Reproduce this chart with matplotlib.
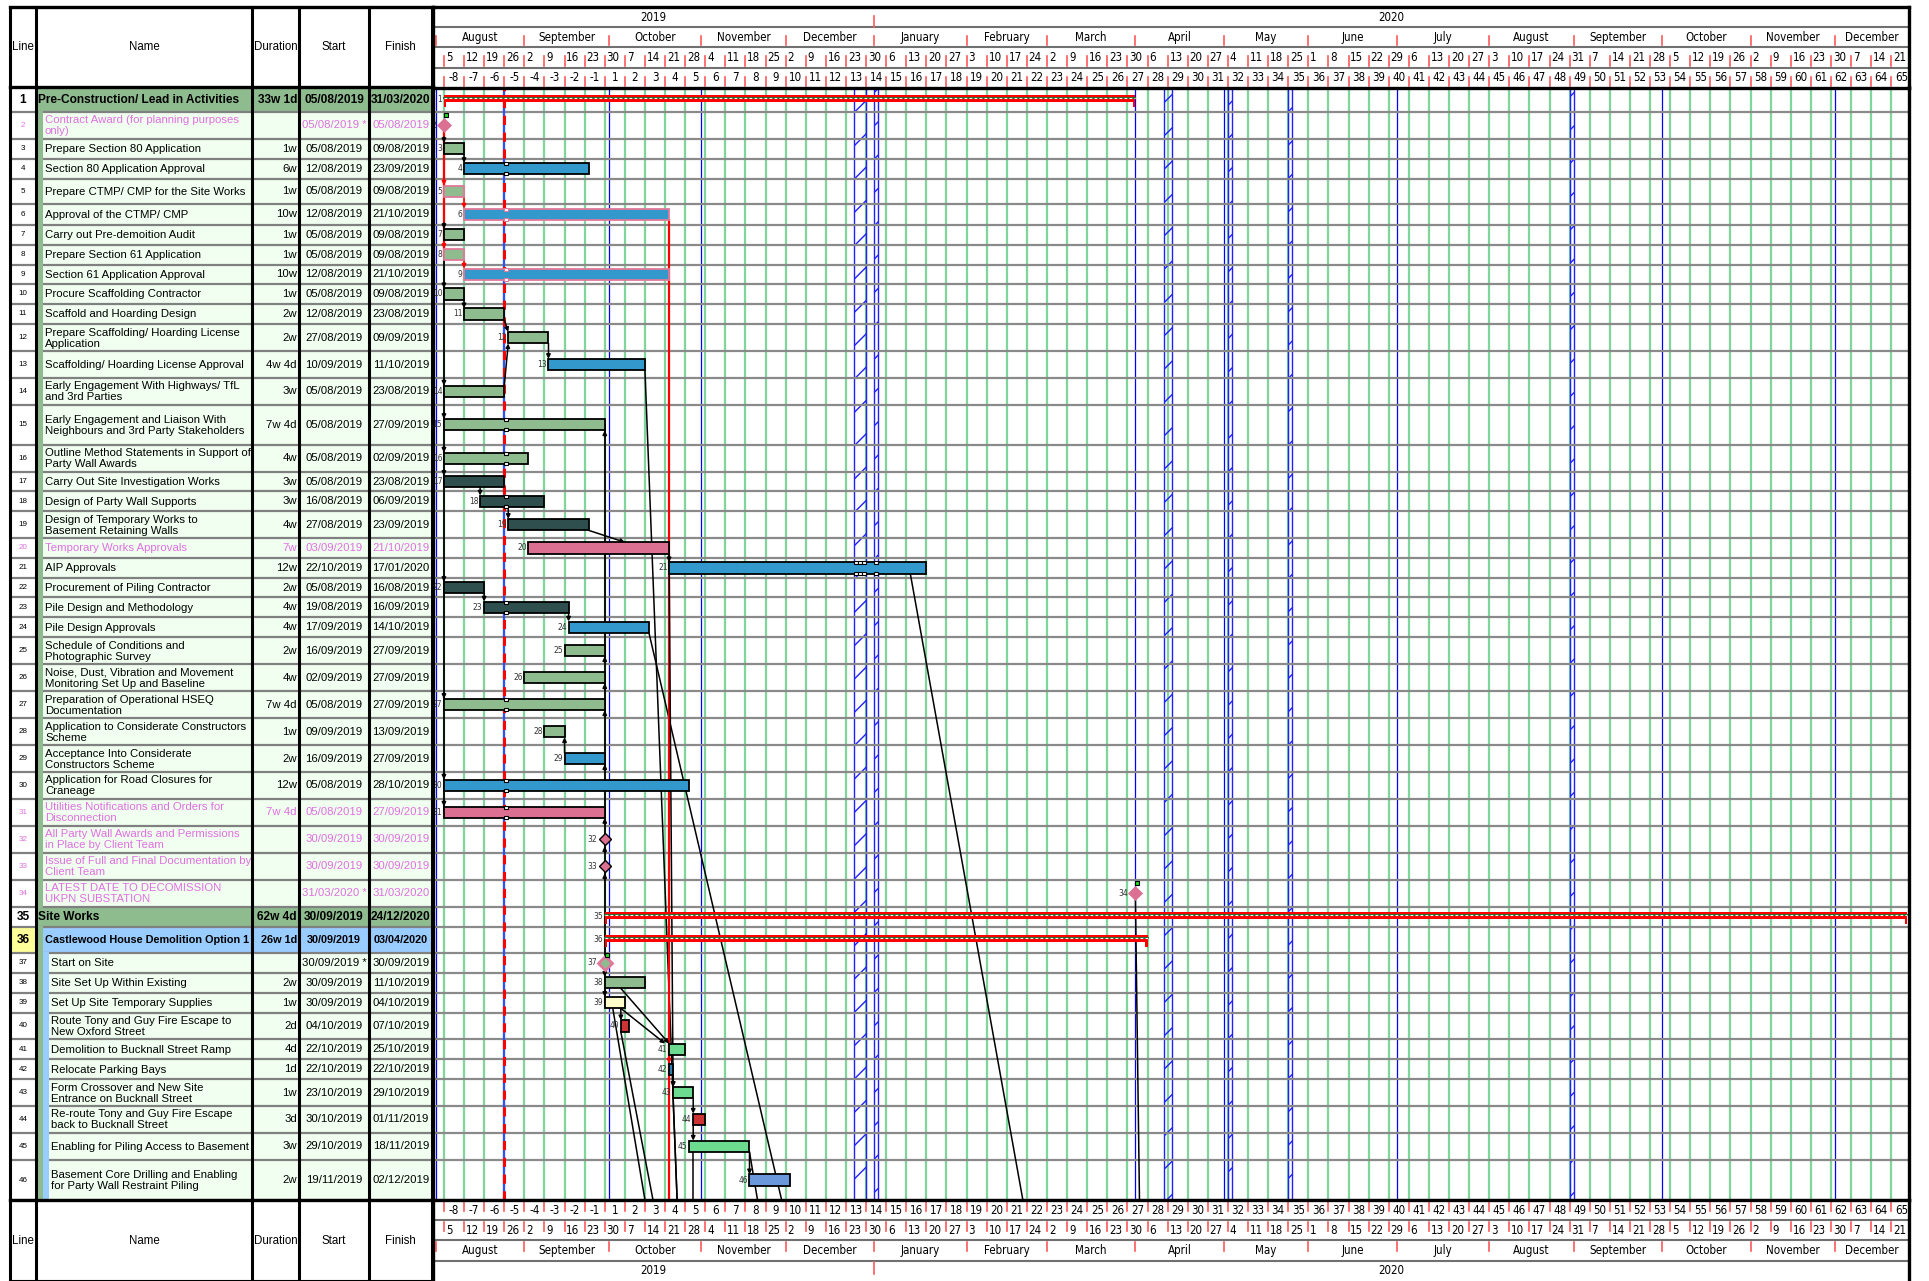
import numpy as np
import matplotlib
matplotlib.use('Agg')
import matplotlib.pyplot as plt
from matplotlib.patches import Rectangle

FIG_W, FIG_H = 1929, 1281

# ---------------- programme data ----------------
names = [
    'Pre-Construction/ Lead in Activities',
    'Contract Award (for planning purposes\nonly)',
    'Prepare Section 80 Application',
    'Section 80 Application Approval',
    'Prepare CTMP/ CMP for the Site Works',
    'Approval of the CTMP/ CMP',
    'Carry out Pre-demoition Audit',
    'Prepare Section 61 Application',
    'Section 61 Application Approval',
    'Procure Scaffolding Contractor',
    'Scaffold and Hoarding Design',
    'Prepare Scaffolding/ Hoarding License\nApplication',
    'Scaffolding/ Hoarding License Approval',
    'Early Engagement With Highways/ TfL\nand 3rd Parties',
    'Early Engagement and Liaison With\nNeighbours and 3rd Party Stakeholders',
    'Outline Method Statements in Support of\nParty Wall Awards',
    'Carry Out Site Investigation Works',
    'Design of Party Wall Supports',
    'Design of Temporary Works to\nBasement Retaining Walls',
    'Temporary Works Approvals',
    'AIP Approvals',
    'Procurement of Piling Contractor',
    'Pile Design and Methodology',
    'Pile Design Approvals',
    'Schedule of Conditions and\nPhotographic Survey',
    'Noise, Dust, Vibration and Movement\nMonitoring Set Up and Baseline',
    'Preparation of Operational HSEQ\nDocumentation',
    'Application to Considerate Constructors\nScheme',
    'Acceptance Into Considerate\nConstructors Scheme',
    'Application for Road Closures for\nCraneage',
    'Utilities Notifications and Orders for\nDisconnection',
    'All Party Wall Awards and Permissions\nin Place by Client Team',
    'Issue of Full and Final Documentation by\nClient Team',
    'LATEST DATE TO DECOMISSION\nUKPN SUBSTATION',
    'Site Works',
    'Castlewood House Demolition Option 1',
    'Start on Site',
    'Site Set Up Within Existing',
    'Set Up Site Temporary Supplies',
    'Route Tony and Guy Fire Escape to\nNew Oxford Street',
    'Demolition to Bucknall Street Ramp',
    'Relocate Parking Bays',
    'Form Crossover and New Site\nEntrance on Bucknall Street',
    'Re-route Tony and Guy Fire Escape\nback to Bucknall Street',
    'Enabling for Piling Access to Basement',
    'Basement Core Drilling and Enabling\nfor Party Wall Restraint Piling',
]
durations = ['33w 1d', '', '1w', '6w', '1w', '10w', '1w', '1w', '10w', '1w',
             '2w', '2w', '4w 4d', '3w', '7w 4d', '4w', '3w', '3w', '4w', '7w',
             '12w', '2w', '4w', '4w', '2w', '4w', '7w 4d', '1w', '2w', '12w',
             '7w 4d', '', '', '', '62w 4d', '26w 1d', '', '2w', '1w', '2d',
             '4d', '1d', '1w', '3d', '3w', '2w']
starts = ['05/08/2019', '05/08/2019', '05/08/2019', '12/08/2019', '05/08/2019',
          '12/08/2019', '05/08/2019', '05/08/2019', '12/08/2019', '05/08/2019',
          '12/08/2019', '27/08/2019', '10/09/2019', '05/08/2019', '05/08/2019',
          '05/08/2019', '05/08/2019', '16/08/2019', '27/08/2019', '03/09/2019',
          '22/10/2019', '05/08/2019', '19/08/2019', '17/09/2019', '16/09/2019',
          '02/09/2019', '05/08/2019', '09/09/2019', '16/09/2019', '05/08/2019',
          '05/08/2019', '30/09/2019', '30/09/2019', '31/03/2020', '30/09/2019',
          '30/09/2019', '30/09/2019', '30/09/2019', '30/09/2019', '04/10/2019',
          '22/10/2019', '22/10/2019', '23/10/2019', '30/10/2019', '29/10/2019',
          '19/11/2019']
finishes = ['31/03/2020', '05/08/2019', '09/08/2019', '23/09/2019', '09/08/2019',
            '21/10/2019', '09/08/2019', '09/08/2019', '21/10/2019', '09/08/2019',
            '23/08/2019', '09/09/2019', '11/10/2019', '23/08/2019', '27/09/2019',
            '02/09/2019', '23/08/2019', '06/09/2019', '23/09/2019', '21/10/2019',
            '17/01/2020', '16/08/2019', '16/09/2019', '14/10/2019', '27/09/2019',
            '27/09/2019', '27/09/2019', '13/09/2019', '27/09/2019', '28/10/2019',
            '27/09/2019', '30/09/2019', '30/09/2019', '31/03/2020', '24/12/2020',
            '03/04/2020', '30/09/2019', '11/10/2019', '04/10/2019', '07/10/2019',
            '25/10/2019', '22/10/2019', '29/10/2019', '01/11/2019', '18/11/2019',
            '02/12/2019']
constrained = [2, 34, 37]          # start dates shown with '*'
levels = [0] + [1] * 33 + [0, 1] + [2] * 10
kinds = ['summary', 'milestone', 'green', 'blue', 'green', 'blue', 'green', 'green',
         'blue', 'green', 'green', 'green', 'blue', 'green', 'green', 'green',
         'slate', 'slate', 'slate', 'pink', 'blue', 'slate', 'slate', 'blue',
         'green', 'green', 'green', 'green', 'blue', 'blue', 'pink', 'milestone',
         'milestone', 'milestone', 'summary', 'summary', 'milestone', 'green',
         'cream', 'red', 'lime', 'navy', 'lime', 'red', 'lime', 'cornflower']
critical = [5, 6, 8, 9]
pink_rows = [2, 20, 31, 32, 33, 34]

holidays = ['2019-08-26', '2019-12-25', '2019-12-26', '2019-12-27', '2020-01-01',
            '2020-04-10', '2020-04-13', '2020-05-04', '2020-05-25', '2020-08-31']
month_marks = ['2019-08-01', '2019-10-01', '2019-11-01', '2020-04-01', '2020-05-01',
               '2020-07-01', '2020-10-01', '2020-12-01']
status_date = '2019-08-26'

# links: (from row, at date, to row, at date, critical)
links = [
    (3, '2019-08-12', 4, '2019-08-12', 0), (5, '2019-08-12', 6, '2019-08-12', 1),
    (8, '2019-08-12', 9, '2019-08-12', 1), (10, '2019-08-12', 11, '2019-08-12', 0),
    (11, '2019-08-26', 12, '2019-08-27', 0), (14, '2019-08-26', 12, '2019-08-27', 0),
    (12, '2019-09-10', 13, '2019-09-10', 0), (17, '2019-08-16', 18, '2019-08-16', 0),
    (18, '2019-08-27', 19, '2019-08-27', 0), (19, '2019-09-24', 20, '2019-10-07', 0),
    (20, '2019-10-22', 21, '2019-10-22', 0), (22, '2019-08-19', 23, '2019-08-19', 0),
    (23, '2019-09-17', 24, '2019-09-17', 0), (29, '2019-09-16', 28, '2019-09-16', 0),
    (38, '2019-10-04', 41, '2019-10-22', 0), (39, '2019-10-04', 41, '2019-10-21', 0),
    (39, '2019-10-04', 40, '2019-10-04', 0), (41, '2019-10-22', 42, '2019-10-22', 1),
    (42, '2019-10-23', 43, '2019-10-23', 0), (43, '2019-10-30', 44, '2019-10-30', 0),
    (44, '2019-10-30', 45, '2019-10-30', 0), (45, '2019-11-19', 46, '2019-11-19', 0),
    (20, '2019-10-22', 43, '2019-10-23', 0),
]
# links running on to activities below the visible rows: (from row, at date, exit date, critical)
offpage = [
    (13, '2019-10-14', '2019-10-24', 0), (24, '2019-10-15', '2019-11-29', 0),
    (21, '2020-01-14', '2020-02-21', 0), (39, '2019-10-02', '2019-10-14', 0),
    (40, '2019-10-04', '2019-10-16', 0), (43, '2019-10-23', '2019-10-24', 0),
    (45, '2019-10-30', '2019-10-30', 0), (45, '2019-11-19', '2019-11-21', 0),
    (34, '2020-04-01', '2020-04-02', 0), (6, '2019-10-22', '2019-10-22', 1),
]
fan_start = [3, 5, 7, 8, 10, 14, 15, 16, 17, 22, 27, 30, 31]        # from row 2
fan_site = [15, 25, 26, 27, 29, 31, 32, 33]                           # into row 37

# ---------------- layout ----------------
row_h = [24.7, 26.7, 20, 20, 25.3, 20.7, 20, 20, 19.3, 20, 20, 27.3, 26.7, 26.7,
         40, 27.3, 19.3, 20, 26.7, 20, 20, 19.3, 20, 20, 26.7, 27.3, 26.7, 27.3,
         26.7, 26.7, 27.3, 26.7, 27.3, 26.7, 20.7, 25.3, 20, 20, 20, 26.7, 20, 20,
         26.7, 26.7, 27.3, 40]
COL = [10, 36, 252, 299, 369, 432]
HEAD_TOP, BODY_TOP, BODY_BOT = 7, 87.3, 1200
CH_L, CH_R = 433, 1909

tops = np.concatenate([[0], np.cumsum(row_h)[:-1]])
mids = tops + np.array(row_h) / 2
total = float(np.sum(row_h))
n = len(names)

ORIGIN = np.datetime64('2019-08-05')


def day(s):
    d, m, y = s.split('/')
    return np.datetime64(f'{y}-{m}-{d}')


def wd(d):
    return float(np.busday_count(ORIGIN, np.datetime64(d, 'D')))


X0 = wd('2019-08-01') - 0.72
X1 = wd('2020-12-24') + 1.4

GREEN, HONEY, LBLUE = '#8fbc8f', '#f0fff0', '#99ccff'
PINK_TXT = '#e070e0'
bar_fill = {'green': '#8fbc8f', 'blue': '#3399cc', 'slate': '#2f4f4f', 'pink': '#db7093',
            'cream': '#ffffcc', 'red': '#cc3333', 'lime': '#6ddb8f', 'navy': '#2e7fb0',
            'cornflower': '#6b97db'}
TXT = ['Liberation Sans', 'DejaVu Sans']
TL = dict(family='DejaVu Sans', stretch='condensed')

fig = plt.figure(figsize=(FIG_W / 100, FIG_H / 100), dpi=100)


def px_axes(x0, y0, x1, y1):
    ax = fig.add_axes([x0 / FIG_W, 1 - y1 / FIG_H, (x1 - x0) / FIG_W, (y1 - y0) / FIG_H])
    ax.set_axis_off()
    return ax


# ---------------- table ----------------
ax_t = px_axes(COL[0], BODY_TOP, CH_L, BODY_BOT)
ax_t.set_xlim(COL[0], CH_L)
ax_t.set_ylim(total, 0)

for i in range(n):
    num = i + 1
    y0, h, yc = tops[i], row_h[i], mids[i]
    lvl = levels[i]
    ax_t.add_patch(Rectangle((COL[0], y0), COL[1] - COL[0], h,
                             fc='#ffff99' if num == 36 else 'white', ec='none', zorder=1))
    if lvl == 0:
        ax_t.add_patch(Rectangle((COL[1], y0), COL[5] - COL[1], h, fc=GREEN, ec='none', zorder=1))
    elif kinds[i] == 'summary':
        ax_t.add_patch(Rectangle((COL[1], y0), COL[5] - COL[1], h, fc=LBLUE, ec='none', zorder=1))
    else:
        ax_t.add_patch(Rectangle((COL[1], y0), COL[5] - COL[1], h, fc=HONEY, ec='none', zorder=1))
    ax_t.plot([COL[0], COL[5]], [y0 + h, y0 + h], color='#808080', lw=1.6, zorder=2)
    if lvl >= 1:
        ax_t.add_patch(Rectangle((COL[1], y0 - 1), 6.7, h + 2, fc=GREEN, ec='none', zorder=3))
    if lvl == 2:
        ax_t.add_patch(Rectangle((COL[1] + 6.7, y0 - 1), 6.3, h + 2, fc=LBLUE, ec='none', zorder=3))

    colour = PINK_TXT if num in pink_rows else 'black'
    bold = kinds[i] == 'summary'
    fw = 'bold' if bold else 'normal'
    if lvl == 0:
        nx, fs = 38, 8.6
    elif bold:
        nx, fs = 45, 7.8
    else:
        nx, fs = (45 if lvl == 1 else 51.5), 8.2
    ax_t.text((COL[0] + COL[1]) / 2, yc, str(num), ha='center', va='center',
              fontsize=8.6 if bold else 5.8, fontweight=fw, color=colour, family=TXT, zorder=5)
    ax_t.text(nx, yc + 0.5, names[i], ha='left', va='center', fontsize=fs, fontweight=fw,
              color=colour, family=TXT, linespacing=1.12, zorder=5)
    ax_t.text(COL[3] - 2, yc, durations[i], ha='right', va='center', fontsize=fs,
              fontweight=fw, color=colour, family=TXT, zorder=5)
    st = starts[i] + (' *' if num in constrained else '')
    ax_t.text((COL[3] + COL[4]) / 2, yc, st, ha='center', va='center', fontsize=fs,
              fontweight=fw, color=colour, family=TXT, zorder=5)
    ax_t.text((COL[4] + COL[5]) / 2 + 0.5, yc, finishes[i], ha='center', va='center',
              fontsize=fs, fontweight=fw, color=colour, family=TXT, zorder=5)

for c in COL:
    ax_t.plot([c, c], [0, total], color='black', lw=2.2, zorder=6, clip_on=False)

# table headers (top and bottom)
for (y0, y1) in [(HEAD_TOP, BODY_TOP), (BODY_BOT, FIG_H + 12)]:
    ah = px_axes(COL[0], y0, CH_L, y1)
    ah.set_xlim(COL[0], CH_L)
    ah.set_ylim(y1 - y0, 0)
    yc = (y1 - y0) / 2 if y0 == HEAD_TOP else 40.5
    for k, lab in enumerate(['Line', 'Name', 'Duration', 'Start', 'Finish']):
        ah.text((COL[k] + COL[k + 1]) / 2, yc, lab, ha='center', va='center',
                fontsize=8.3, family=TXT)
    for c in COL:
        ah.plot([c, c], [0, y1 - y0], color='black', lw=2.2, clip_on=False)
    ah.plot([COL[0], CH_L], [0, 0], color='black', lw=2.4, clip_on=False)
    if y0 == HEAD_TOP:
        ah.plot([COL[0], CH_L], [y1 - y0, y1 - y0], color='black', lw=2.4, clip_on=False)
    else:
        ah.plot([COL[0], CH_L], [80.7, 80.7], color='black', lw=1.5, clip_on=False)

# ---------------- gantt body ----------------
ax = px_axes(CH_L, BODY_TOP, CH_R, BODY_BOT)
ax.set_xlim(X0, X1)
ax.set_ylim(total, 0)

mondays = np.arange(0, int(X1) + 1, 5)
for m in mondays:
    ax.axvline(m, color='#7ed69a', lw=1.6, zorder=1)
for d in month_marks:
    ax.axvline(wd(d), color='#0000ff', lw=0.9, zorder=1.6)

hol_pos = sorted(wd(d) for d in holidays if d != status_date)
bands = []
for p in hol_pos:
    if bands and abs(bands[-1][1] - p) < 1e-9:
        bands[-1][1] = p + 1
    else:
        bands.append([p, p + 1])
for b0, b1 in bands:
    ax.add_patch(Rectangle((b0, 0), b1 - b0, total, fill=False, hatch='/',
                           ec='#2020ff', lw=1.0, zorder=1.7))

for i in range(n):
    ax.axhline(tops[i] + row_h[i], color='#8a8a8a', lw=1.6, zorder=2)

sd = wd(status_date)
ax.axvline(sd, color='#3050ff', lw=1.6, zorder=2.4)
ax.axvline(sd, color='#ff0000', lw=2.2, ls=(0, (3, 2.5)), zorder=2.5)

BH = 11.5
xs = [wd(day(s)) for s in starts]
xe = [wd(day(f)) + 1 for f in finishes]
all_hol = sorted(wd(d) for d in holidays)


def edge_y(row, below):
    i = row - 1
    half = 7 if kinds[i] == 'milestone' else BH / 2
    return mids[i] + half if below else mids[i] - half


def ms_x(row):
    i = row - 1
    return xe[i] if row == 34 else xs[i]


for i in range(n):
    num = i + 1
    yc = mids[i]
    k = kinds[i]
    if k == 'summary':
        top = yc - 5
        ax.add_patch(Rectangle((xs[i], top), xe[i] - xs[i], 7, fc='#ff0000', ec='none', zorder=4))
        ax.plot([xs[i], xe[i]], [top + 3.5, top + 3.5], color='#2a6a2a', lw=1.4, zorder=4.1)
        ax.plot([xs[i], xe[i]], [top + 3.5, top + 3.5], color='white', lw=0.8,
                ls=(0, (2.5, 2)), zorder=4.2)
        for cx in (xs[i], xe[i] - 0.55):
            ax.add_patch(Rectangle((cx, top), 0.55, 12, fc='#ff0000', ec='none', zorder=4))
        ax.text(xs[i] - 0.4, yc, str(num), ha='right', va='center', fontsize=6,
                color='#333333', zorder=5, **TL)
    elif k == 'milestone':
        mx = ms_x(num)
        if num == 37:
            ax.plot(mx, yc, marker='D', ms=7.2, mfc=GREEN, mec='#e0789a', mew=2, zorder=5)
        elif num in (32, 33):
            ax.plot(mx, yc, marker='D', ms=6, mfc='#db7093', mec='black', mew=1, zorder=5)
        else:
            ax.plot(mx, yc, marker='D', ms=7.6, mfc='#db7093', mec='#db7093', mew=0.5, zorder=5)
        if num in constrained:
            ax.plot(mx + 0.5, tops[i] + 2.6, marker='s', ms=3.4, mfc='#22dd22', mec='black',
                    mew=0.8, zorder=5.5)
        ax.text(mx - 1.9, yc, str(num), ha='right', va='center', fontsize=6,
                color='#333333', zorder=5, **TL)
    else:
        ec = '#e0789a' if num in critical else 'black'
        ax.add_patch(Rectangle((xs[i], yc - BH / 2), xe[i] - xs[i], BH, fc=bar_fill[k],
                               ec=ec, lw=1.3, zorder=4))
        for hp in all_hol:
            if xs[i] < hp and hp + 1 <= xe[i]:
                for ny in (yc - BH / 2 - 1, yc + BH / 2 - 2):
                    ax.add_patch(Rectangle((hp, ny), 1, 3, fc='white', ec=ec, lw=0.8, zorder=4.3))
        ax.text(xs[i] - 0.4, yc, str(num), ha='right', va='center', fontsize=6,
                color='#333333', zorder=5, **TL)


def arrow(x1, y1, x2, y2, colour, head=True):
    ax.annotate('', xy=(x2, y2), xytext=(x1, y1),
                arrowprops=dict(arrowstyle='-|>' if head else '-', color=colour, lw=1.1,
                                mutation_scale=6, shrinkA=0, shrinkB=0), zorder=3.8)


# fan from the contract award milestone
x_ca = ms_x(2)
ax.plot([x_ca, x_ca], [mids[1], mids[fan_start[-1] - 1]], color='black', lw=1.3, zorder=3.5)
ax.plot([x_ca, x_ca], [mids[1], mids[7]], color='#ff0000', lw=1.6, zorder=3.6)
for r in fan_start:
    c = '#ff0000' if r in critical else 'black'
    ye = edge_y(r, False)
    arrow(x_ca, ye - 6, x_ca, ye, c)

# fan into Start on Site
x_ss = ms_x(37)
ax.plot([x_ss, x_ss], [mids[fan_site[0] - 1], mids[38]], color='black', lw=1.3, zorder=3.5)
for r in fan_site:
    ye = edge_y(r, True)
    arrow(x_ss, ye + 6, x_ss, ye, 'black')
for r in (38, 39):
    ye = edge_y(r, False)
    arrow(x_ss, ye - 6, x_ss, ye, 'black')

for fr, fd, tr, td, crit in links:
    c = '#ff0000' if crit else 'black'
    down = tr > fr
    arrow(wd(fd), edge_y(fr, down), wd(td), edge_y(tr, not down), c)

for fr, fd, td, crit in offpage:
    c = '#ff0000' if crit else 'black'
    ax.plot([wd(fd), wd(td)], [edge_y(fr, True), total], color=c,
            lw=1.6 if crit else 1.1, zorder=3.4)

ax.plot([X0, X0], [0, total], color='black', lw=2.4, clip_on=False, zorder=6)
ax.plot([X1, X1], [0, total], color='black', lw=2.4, clip_on=False, zorder=6)

# ---------------- timescale headers ----------------
month_starts = [(np.datetime64('2019-08') + np.timedelta64(k, 'M')).astype('datetime64[D]')
                for k in range(18)]
month_names = ['January', 'February', 'March', 'April', 'May', 'June', 'July', 'August',
               'September', 'October', 'November', 'December']
TICK = '#ff5a5a'


def timescale(y0, y1, order, top):
    ah = px_axes(CH_L, y0, CH_R, y1)
    ah.set_xlim(X0, X1)
    ah.set_ylim(4 * (y1 - y0) / 80.7, 0)
    for r in range(1, 4):
        ah.axhline(r, color='#707070', lw=1.5)
    for r, kind in enumerate(order):
        t0, t1 = (r + 0.45, r + 0.9) if top else (r + 0.08, r + 0.55)
        yc = r + 0.5
        if kind == 'year':
            for yr in (2019, 2020):
                a = max(X0, wd(f'{yr}-01-01'))
                b = min(X1, wd(f'{yr + 1}-01-01'))
                ah.text((a + b) / 2, yc, str(yr), ha='center', va='center', fontsize=8.3, **TL)
            ah.plot([wd('2020-01-01')] * 2, [t0, t1 + 0.1], color=TICK, lw=1.2)
        elif kind == 'month':
            for k, ms in enumerate(month_starts[:-1]):
                a = wd(ms)
                b = wd(month_starts[k + 1])
                lab = month_names[int(str(ms)[5:7]) - 1]
                ah.plot([a, a], [t0, t1], color=TICK, lw=1.2)
                ah.text((max(a, X0) + min(b, X1)) / 2, yc, lab, ha='center', va='center',
                        fontsize=8.3, **TL)
        elif kind == 'day':
            for k, m in enumerate(mondays):
                dstr = str(ORIGIN + np.timedelta64(7 * int(k), 'D'))
                ah.plot([m, m], [t0, t1], color=TICK, lw=1.2)
                ah.text(m + 0.45, yc, str(int(dstr[8:10])), ha='left', va='center',
                        fontsize=8.3, **TL)
        else:
            for k, m in enumerate(mondays):
                wk = k - 8 if k < 8 else k - 7
                ah.plot([m, m], [t0, t1], color=TICK, lw=1.2)
                if m + 2.5 < X1:
                    ah.text(m + 2.5, yc, str(wk), ha='center', va='center', fontsize=8.3, **TL)
    ah.plot([X0, X1], [0, 0], color='black', lw=2.4, clip_on=False)
    if top:
        ah.plot([X0, X1], [4, 4], color='black', lw=2.4, clip_on=False)
    ah.plot([X0, X0], [0, 4], color='black', lw=2.4, clip_on=False)
    ah.plot([X1, X1], [0, 4], color='black', lw=2.4, clip_on=False)


timescale(HEAD_TOP, BODY_TOP, ['year', 'month', 'day', 'week'], True)
timescale(BODY_BOT, FIG_H, ['week', 'day', 'month', 'year'], False)

fig.savefig('out.png', dpi=100, facecolor='white')
